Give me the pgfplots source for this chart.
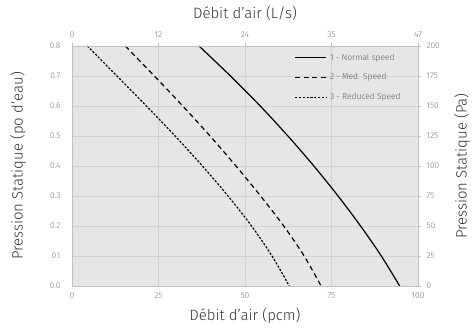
\documentclass[border=0pt]{standalone}
\usepackage{pgfplots}
\pgfplotsset{compat=1.18}
\usepackage{fontspec}
\setmainfont{Fira Sans Light}
\definecolor{bg}{HTML}{E6E6E6}
\definecolor{ticktxt}{HTML}{7A7A7A}
\definecolor{legtxt}{HTML}{595959}
\definecolor{titletxt}{HTML}{333333}
\definecolor{axln}{HTML}{BFBFBF}
\begin{document}
\begin{tikzpicture}
\pgfplotsset{
  common/.style={
    scale only axis, width=346bp, height=240bp,
    xmin=0, xmax=100,
    tick label style={font=\fontsize{8.5}{9}\selectfont, text=ticktxt},
    label style={font=\fontsize{15}{17}\selectfont, text=titletxt},
    axis line style={axln},
    /pgf/number format/assume math mode=true,
  }
}
\begin{axis}[common,
  ymin=0, ymax=0.8,
  xtick={0,25,50,75,100},
  ytick={0,0.1,0.2,0.3,0.4,0.5,0.6,0.7,0.8},
  yticklabel style={xshift=-8bp, /pgf/number format/.cd, fixed, fixed zerofill, precision=1},
  major tick length=0pt,
  xticklabel style={yshift=-3bp},
  grid=major, grid style={white!82!black, line width=0.4pt},
  axis background/.style={fill=bg},
  xlabel={Débit d'air (pcm)},
  ylabel={Pression Statique (po d'eau)},
  xlabel style={at={(axis description cs:0.5,-0.125)}, anchor=center},
  ylabel style={at={(axis description cs:-0.156,0.5)}, anchor=center},
  legend style={at={(0.965,0.985)}, anchor=north east, draw=none, fill=none,
    font=\fontsize{8.5}{9}\selectfont, text=legtxt, row sep=8pt,
    /tikz/every odd column/.append style={column sep=1pt}},
  legend cell align=left,
  legend image code/.code={\draw[#1] (0cm,0cm) -- (1.1cm,0cm);},
]
\coordinate (ll) at (rel axis cs:0,0);
\coordinate (ur) at (rel axis cs:1,1);
\addplot[black, line width=1.2pt, smooth] coordinates {
(36.7,0.8)(45.8,0.7)(54.4,0.6)(62.4,0.5)(69.9,0.4)(76.9,0.3)(83.4,0.2)(89.4,0.1)(94.7,0)};
\addlegendentry{1 - Normal speed}
\addplot[black, line width=1.2pt, smooth, dash pattern=on 5pt off 3.5pt] coordinates {
(15.4,0.8)(23.8,0.7)(32.0,0.6)(39.9,0.5)(47.4,0.4)(54.5,0.3)(61.2,0.2)(67.1,0.1)(72.0,0)};
\addlegendentry{2 - Med. Speed}
\addplot[black, line width=1.2pt, smooth, dash pattern=on 2.2pt off 1.6pt] coordinates {
(4.4,0.8)(13.0,0.7)(21.5,0.6)(29.8,0.5)(37.7,0.4)(45.1,0.3)(51.9,0.2)(57.8,0.1)(62.8,0)};
\addlegendentry{3 - Reduced Speed}
\end{axis}
\begin{axis}[common,
  ymin=0, ymax=200,
  axis x line*=top, axis y line*=right,
  xtick={0,25,50,75,100}, xticklabels={0,12,24,35,47},
  ytick={0,25,50,75,100,125,150,175,200},
  major tick length=3pt,
  tick style={axln},
  tick align=outside,
  xticklabel style={yshift=2bp},
  yticklabel style={xshift=2bp},
  xlabel={Débit d'air (L/s)},
  ylabel={Pression Statique (Pa)},
  xlabel style={at={(axis description cs:0.5,1.135)}, anchor=center},
  ylabel style={at={(axis description cs:1.127,0.5)}, anchor=center},
]
\end{axis}
\pgfresetboundingbox
\path ([shift={(-72bp,-42bp)}]ll) rectangle ([shift={(54bp,46bp)}]ur);
\end{tikzpicture}
\end{document}
